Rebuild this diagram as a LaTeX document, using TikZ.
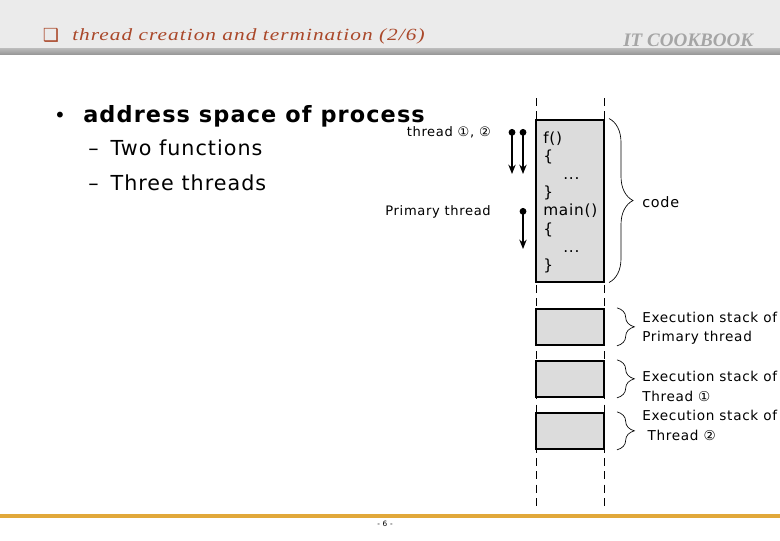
\documentclass[tikz,border=0pt]{standalone}
\usepackage{fontspec}
\setmainfont[LetterSpace=5]{DejaVu Sans}
\newfontfamily\titlefont[FakeStretch=1.25,LetterSpace=6]{Liberation Serif}
\newfontfamily\logofont{Liberation Serif}
\usetikzlibrary{arrows.meta, positioning, decorations.pathreplacing}
\definecolor{hdrbg}{RGB}{235,235,235}
\definecolor{hdrtxt}{RGB}{170,72,42}
\definecolor{logogrey}{RGB}{165,165,165}
\definecolor{boxgrey}{RGB}{220,220,220}
\definecolor{footline}{RGB}{225,168,58}

\begin{document}
\begin{tikzpicture}[x=0.75pt, y=-0.75pt, >=Stealth,
    mem/.style={draw, line width=1.5pt, fill=boxgrey, minimum width=51pt,
        inner sep=0pt},
    stk/.style={mem, minimum height=27pt},
    item/.style={inner sep=0pt, font=\fontsize{15.5}{18}\selectfont},
    small/.style={inner sep=0pt, font=\fontsize{9.8}{11}\selectfont},
    codetxt/.style={inner sep=0pt, anchor=base west, font=\fontsize{11.5}{13}\selectfont},
    lbl/.style={inner sep=0pt, anchor=west, align=left,
        font=\fontsize{10.2}{14.6}\selectfont},
    flow/.style={line width=1.4pt, {Circle[length=5pt]}-{Stealth[length=7pt,width=5.5pt]}},
    brc/.style={decorate, decoration={brace, amplitude=#1}, line width=0.5pt},
    guide/.style={dash pattern=on 6pt off 4pt, line width=0.6pt}]
    \useasboundingbox (0,0) rectangle (780,540);

    % header
    \fill[hdrbg] (0,0) rectangle (780,48);
    \shade[top color=hdrbg!80!black, bottom color=black!40] (0,48) rectangle (780,54);
    \node[inner sep=0pt, text=hdrtxt, font=\fontsize{13.5}{14}\selectfont] (box) at (51,35) {❑};
    \node[inner sep=0pt, anchor=base west, text=hdrtxt,
        font=\titlefont\itshape\fontsize{12.8}{14}\selectfont] (title) at (72,40)
        {thread creation and termination (2/6)};
    \node[inner sep=0pt, anchor=base west, text=logogrey,
        font=\logofont\bfseries\itshape\fontsize{14.3}{16}\selectfont] (logo) at (623,46)
        {IT COOKBOOK};

    % left text
    \node[inner sep=0pt, anchor=base west, font=\fontsize{16.8}{18}\selectfont\bfseries]
        (head) at (83,122) {address space of process};
    \node[inner sep=0pt, anchor=base, font=\fontsize{15}{18}\selectfont] (bul) at (60,122) {•};
    \node[item, anchor=base west] (fns) at (88,155) {–\hspace{9pt}Two functions};
    \node[item, anchor=base west] (thr) at (88,190) {–\hspace{9pt}Three threads};
    \node[small, anchor=base east] (t12) at (491,136) {thread ①, ②};
    \node[small, anchor=base east] (prim) at (491,215) {Primary thread};

    % guide lines
    \draw[guide] (536,98) -- (536,508);
    \draw[guide] (604,98) -- (604,508);

    % memory
    \node[mem, minimum height=121.5pt] (code) at (570,200.5) {};
    \node[stk, below=19pt of code] (stk1) {};
    \node[stk, below=10.5pt of stk1] (stk2) {};
    \node[stk, below=10.5pt of stk2] (stk3) {};

    \foreach \y/\t in {143/f(), 161.2/\{, 197.6/\}, 215.8/main(), 234/\{, 270.4/\}}
        \node[codetxt] at (543,\y) {\t};
    \node[codetxt] (dots1) at (563,179.4) {...};
    \node[codetxt] (dots2) at (563,252.2) {...};

    % threads
    \coordinate (a1s) at (512,129);
    \coordinate (a1e) at (512,174);
    \coordinate (a2s) at (523,129);
    \coordinate (a2e) at (523,174);
    \coordinate (a3s) at (523,208);
    \coordinate (a3e) at (523,249);
    \draw[flow] (a1s) -- (a1e);
    \draw[flow] (a2s) -- (a2e);
    \draw[flow] (a3s) -- (a3e);

    % braces
    \draw[brc=18pt] ([xshift=3pt]code.north east) -- ([xshift=3pt]code.south east);
    \draw[brc=13pt] ([xshift=9pt]stk1.north east) -- ([xshift=9pt]stk1.south east);
    \draw[brc=13pt] ([xshift=9pt]stk2.north east) -- ([xshift=9pt]stk2.south east);
    \draw[brc=13pt] ([xshift=9pt]stk3.north east) -- ([xshift=9pt]stk3.south east);
    \node[inner sep=0pt, anchor=base west, font=\fontsize{10.8}{12}\selectfont] (codel) at (642,207) {code};
    \node[lbl] (l1) at (642,328.5) {Execution stack of\\Primary thread};
    \node[lbl] (l2) at (642,386.5) {Execution stack of\\Thread ①};
    \node[lbl] (l3) at (642,425.5) {Execution stack of\\\hspace{4pt}Thread ②};

    % footer
    \draw[footline, line width=3pt] (0,516) -- (780,516);
    \node[inner sep=0pt, font=\fontsize{5.5}{6}\selectfont] (page) at (385,523.5) {- 6 -};
\end{tikzpicture}
\end{document}
